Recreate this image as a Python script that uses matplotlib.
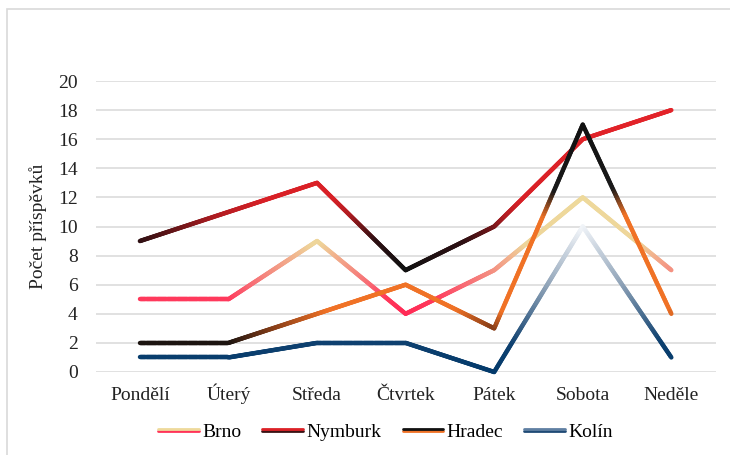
import numpy as np
import matplotlib
matplotlib.use("Agg")
import matplotlib.pyplot as plt
from matplotlib.collections import LineCollection
from matplotlib.colors import LinearSegmentedColormap, Normalize
from matplotlib.legend_handler import HandlerBase
from matplotlib.lines import Line2D
from matplotlib.patches import Rectangle

plt.rcParams["font.family"] = ["Liberation Serif", "DejaVu Serif"]

days = ["Pondělí", "Úterý", "Středa", "Čtvrtek", "Pátek", "Sobota", "Neděle"]
brno = [5, 5, 9, 4, 7, 12, 7]
nymburk = [9, 11, 13, 7, 10, 16, 18]
hradec = [2, 2, 4, 6, 3, 17, 4]
kolin = [1, 1, 2, 2, 0, 10, 1]

series = [
    ("Brno", brno, [(0, "#FF2A55"), (0.13, "#FF3A5C"), (0.25, "#F86A74"),
                    (0.36, "#F48C80"), (0.48, "#F2AE8C"), (0.6, "#EED59A"),
                    (1, "#EED99B")], ("#EED99B", "#FF3358")),
    ("Nymburk", nymburk, [(0, "#111111"), (0.18, "#2E1013"), (0.26, "#6A1518"),
                          (0.34, "#B01C21"), (0.44, "#D82026"), (1, "#E32329")],
     ("#DC2026", "#3A1214")),
    ("Hradec", hradec, [(0, "#1C1410"), (0.07, "#8A3F18"), (0.15, "#F07226"),
                        (0.58, "#F07226"), (0.7, "#1A1A1A"), (1, "#111111")],
     ("#111111", "#F07226")),
    ("Kolín", kolin, [(0, "#033A6B"), (0.2, "#0E406F"), (0.6, "#8FA3B8"),
                      (1, "#F2F5F9")], ("#5F7FA2", "#1F4A75")),
]


class TwoTone(HandlerBase):
    def __init__(self, top, bottom):
        super().__init__()
        self.top, self.bottom = top, bottom

    def create_artists(self, legend, orig, xd, yd, w, h, fs, trans):
        y = yd + h / 2
        a = Line2D([xd, xd + w], [y + 0.9, y + 0.9], color=self.top, lw=2.0,
                   solid_capstyle="round", transform=trans)
        b = Line2D([xd, xd + w], [y - 0.9, y - 0.9], color=self.bottom, lw=2.0,
                   solid_capstyle="round", transform=trans)
        return [b, a]


fig = plt.figure(figsize=(7.3, 4.55), dpi=100)
fig.patches.append(Rectangle((7 / 730, -0.1), 1.2, 1 - 9 / 455 + 0.1,
                             transform=fig.transFigure, fill=False,
                             edgecolor="#D9D9D9", lw=1.2))
ax = fig.add_axes([95.6 / 730, 1 - 372 / 455, 620 / 730, 291 / 455])

x = np.arange(len(days))
handles, hmap = [], {}
for i, (name, vals, stops, legc) in enumerate(series):
    cmap = LinearSegmentedColormap.from_list(name, stops)
    v = np.array(vals, dtype=float)
    norm = Normalize(v.min(), v.max())
    pts = []
    for k in range(len(v) - 1):
        t = np.linspace(0, 1, 80, endpoint=(k == len(v) - 2))
        pts.append(np.column_stack([x[k] + t * (x[k + 1] - x[k]),
                                    v[k] + t * (v[k + 1] - v[k])]))
    pts = np.vstack(pts)
    segs = np.stack([pts[:-1], pts[1:]], axis=1)
    mid = (pts[:-1, 1] + pts[1:, 1]) / 2
    lc = LineCollection(segs, colors=cmap(norm(mid)), linewidths=3.2,
                        capstyle="round", joinstyle="round", zorder=3 + i)
    lc.set_clip_on(False)
    ax.add_collection(lc)
    h = Line2D([], [], label=name)
    handles.append(h)
    hmap[h] = TwoTone(*legc)

ax.set_xlim(-0.5, len(days) - 0.5)
ax.set_ylim(0, 20)
ax.set_yticks(range(0, 21, 2))
ax.set_xticks(x)
ax.set_xticklabels(days, va="baseline")
ax.grid(axis="y", color="#D9D9D9", lw=1.1)
ax.set_axisbelow(True)
for s in ax.spines.values():
    s.set_visible(False)
ax.tick_params(length=0, labelsize=14, colors="#222222")
ax.tick_params(axis="y", pad=13)
ax.tick_params(axis="x", pad=20)
ax.set_ylabel("Počet příspěvků", fontsize=14, color="#222222", labelpad=8)

fig.legend(handles=handles, handler_map=hmap, loc="center",
           bbox_to_anchor=(0.528, 1 - 432 / 455), ncol=4, frameon=False,
           fontsize=14, handlelength=2.1, handletextpad=0.15, columnspacing=1.1)

fig.savefig("out.png", dpi=100)
